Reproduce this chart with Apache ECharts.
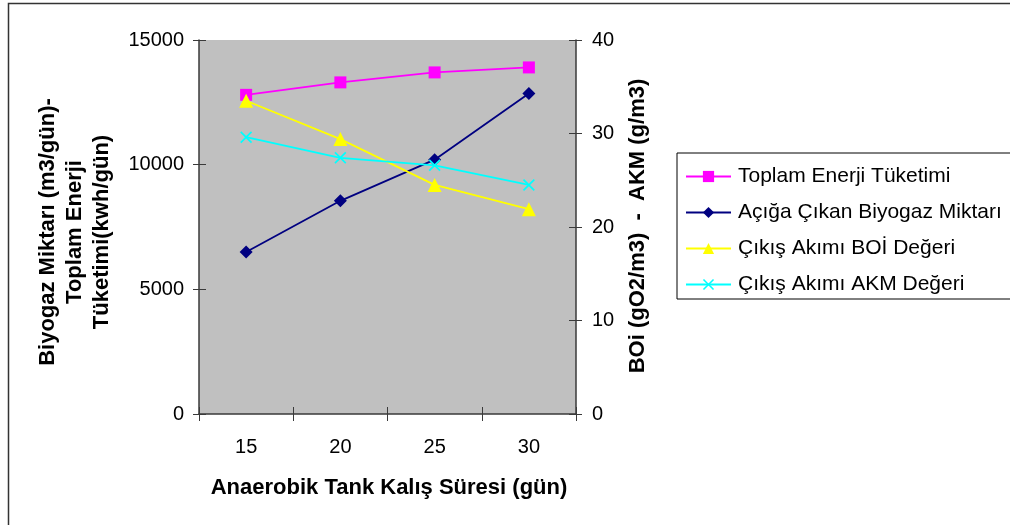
<!DOCTYPE html>
<html>
<head>
<meta charset="utf-8">
<script src="https://cdn.jsdelivr.net/npm/echarts@6/dist/echarts.min.js"></script>
<style>
  html, body { margin: 0; padding: 0; background: #fff; }
  #chart { width: 1010px; height: 525px; }
</style>
</head>
<body>
<div id="chart"></div>
<script>
// Retention time of the anaerobic tank (days)
const categories = ['15', '20', '25', '30'];

// Left axis series
const toplamEnerji = [12800, 13300, 13700, 13900];      // kWh/gün
const biyogazMiktari = [6500, 8550, 10200, 12850];     // m3/gün

// Right axis series
const boiDegeri = [33.5, 29.4, 24.5, 21.9];            // gO2/m3
const akmDegeri = [29.6, 27.4, 26.6, 24.5];            // g/m3

const seriesNames = [
  'Toplam Enerji Tüketimi',
  'Açığa Çıkan Biyogaz Miktarı',
  'Çıkış Akımı BOİ Değeri',
  'Çıkış Akımı AKM Değeri'
];

const FONT = '"Liberation Sans", Arial, sans-serif';
const AXIS_COLOR = '#3a3a3a';
const crossMark = 'path://M0,1 L1,0 L5,4 L9,0 L10,1 L6,5 L10,9 L9,10 L5,6 L1,10 L0,9 L4,5 Z';

const chart = echarts.init(document.getElementById('chart'));

const tickLabel = { color: '#000', fontFamily: FONT, fontSize: 20, formatter: v => String(v) };

chart.setOption({
  animation: false,
  backgroundColor: '#ffffff',
  grid: {
    left: 199, top: 40, width: 377, height: 374,
    show: true, backgroundColor: '#C0C0C0', borderWidth: 0
  },
  xAxis: [
    {
      type: 'category', data: categories, position: 'bottom',
      axisLine: { lineStyle: { color: AXIS_COLOR, width: 1.5 } },
      axisTick: { show: true, length: 7, lineStyle: { color: AXIS_COLOR, width: 1 } },
      axisLabel: Object.assign({}, tickLabel, { margin: 23 }),
      splitLine: { show: false }
    },
    {
      type: 'category', data: categories, position: 'bottom',
      axisLine: { show: false },
      axisTick: { show: true, inside: true, length: 7, lineStyle: { color: AXIS_COLOR, width: 1 } },
      axisLabel: { show: false },
      splitLine: { show: false }
    }
  ],
  yAxis: [
    {
      type: 'value', position: 'left', min: 0, max: 15000, interval: 5000,
      axisLine: { show: true, lineStyle: { color: AXIS_COLOR, width: 1.5 } },
      axisTick: { show: true, length: 6, lineStyle: { color: AXIS_COLOR } },
      axisLabel: Object.assign({}, tickLabel, { margin: 15 }),
      splitLine: { show: false }
    },
    {
      type: 'value', position: 'right', min: 0, max: 40, interval: 10,
      axisLine: { show: true, lineStyle: { color: AXIS_COLOR, width: 1.5 } },
      axisTick: { show: true, length: 6, lineStyle: { color: AXIS_COLOR } },
      axisLabel: Object.assign({}, tickLabel, { margin: 16 }),
      splitLine: { show: false }
    },
    {
      type: 'value', position: 'left', min: 0, max: 15000, interval: 5000,
      axisLine: { show: false },
      axisTick: { show: true, inside: true, length: 7, lineStyle: { color: AXIS_COLOR } },
      axisLabel: { show: false },
      splitLine: { show: false }
    },
    {
      type: 'value', position: 'right', min: 0, max: 40, interval: 10,
      axisLine: { show: false },
      axisTick: { show: true, inside: true, length: 7, lineStyle: { color: AXIS_COLOR } },
      axisLabel: { show: false },
      splitLine: { show: false }
    }
  ],
  legend: {
    orient: 'vertical',
    left: 677, top: 153,
    padding: [13, 10, 4, 8],
    itemGap: 15,
    itemWidth: 45, itemHeight: 14,
    borderColor: '#000', borderWidth: 1,
    backgroundColor: '#fff',
    textStyle: { color: '#000', fontFamily: FONT, fontSize: 21, padding: [0, 0, 0, 2] },
    data: seriesNames.map(n => ({ name: n }))
  },
  series: [
    {
      name: seriesNames[0], type: 'line', xAxisIndex: 0, yAxisIndex: 0,
      data: toplamEnerji,
      symbol: 'rect', symbolSize: 12,
      lineStyle: { color: '#FF00FF', width: 1.8 },
      itemStyle: { color: '#FF00FF' }
    },
    {
      name: seriesNames[1], type: 'line', xAxisIndex: 0, yAxisIndex: 0,
      data: biyogazMiktari,
      symbol: 'diamond', symbolSize: 13,
      lineStyle: { color: '#000080', width: 1.8 },
      itemStyle: { color: '#000080' }
    },
    {
      name: seriesNames[2], type: 'line', xAxisIndex: 0, yAxisIndex: 1,
      data: boiDegeri,
      symbol: 'triangle', symbolSize: 14,
      lineStyle: { color: '#FFFF00', width: 1.8 },
      itemStyle: { color: '#FFFF00' }
    },
    {
      name: seriesNames[3], type: 'line', xAxisIndex: 0, yAxisIndex: 1,
      data: akmDegeri,
      symbol: crossMark, symbolSize: 12,
      lineStyle: { color: '#00FFFF', width: 1.8 },
      itemStyle: { color: '#00FFFF' }
    }
  ],
  graphic: [
    {
      type: 'rect', silent: true, z: -1,
      shape: { x: 8.5, y: 3.5, width: 1100, height: 600 },
      style: { fill: 'none', stroke: '#333', lineWidth: 1.5 }
    },
    {
      type: 'text', x: 389, y: 488,
      style: {
        text: 'Anaerobik Tank Kalış Süresi (gün)',
        font: 'bold 22px ' + FONT, fill: '#000',
        textAlign: 'center', textVerticalAlign: 'middle'
      }
    },
    {
      type: 'text', x: 75, y: 232, rotation: Math.PI / 2,
      style: {
        text: 'Biyogaz Miktarı (m3/gün)-\nToplam Enerji\nTüketimi(kwh/gün)',
        font: 'bold 22px ' + FONT, fill: '#000', lineHeight: 27,
        textAlign: 'center', textVerticalAlign: 'middle'
      }
    },
    {
      type: 'text', x: 638, y: 226, rotation: Math.PI / 2,
      style: {
        text: 'BOi (gO2/m3)  -  AKM (g/m3)',
        font: 'bold 22px ' + FONT, fill: '#000',
        textAlign: 'center', textVerticalAlign: 'middle'
      }
    }
  ]
});
</script>
</body>
</html>
